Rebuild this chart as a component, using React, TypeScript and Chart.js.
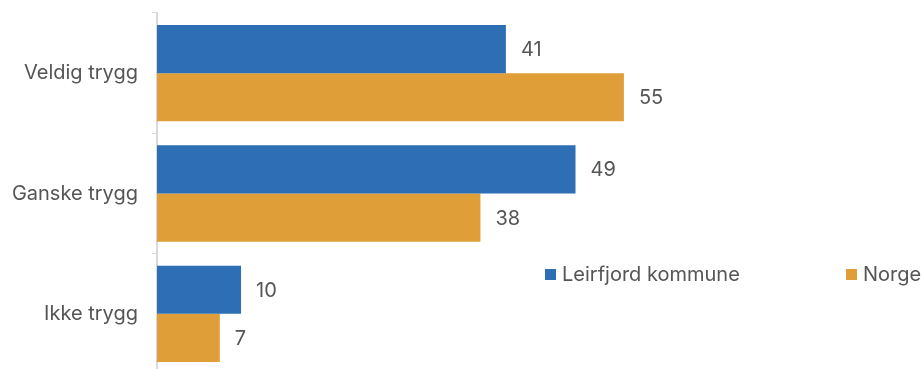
import React, { useEffect, useRef } from "react";
import { Chart, registerables } from "chart.js";

Chart.register(...registerables);

const categories = ["Veldig trygg", "Ganske trygg", "Ikke trygg"];
const seriesNames = ["Leirfjord kommune", "Norge"];
const leirfjord = [41.1, 49.3, 9.9];
const norge = [55, 38.1, 7.4];
const colors = ["#2D6EB4", "#DF9E37"];

const FONT = "Inter, Roboto, sans-serif";
const TEXT = "#555555";

const valueLabels = {
  id: "valueLabels",
  afterDatasetsDraw(chart: any) {
    const ctx = chart.ctx;
    ctx.save();
    ctx.font = `20px ${FONT}`;
    ctx.fillStyle = TEXT;
    ctx.textAlign = "left";
    ctx.textBaseline = "middle";
    chart.data.datasets.forEach((ds: any, i: number) => {
      const meta = chart.getDatasetMeta(i);
      meta.data.forEach((bar: any, j: number) => {
        ctx.fillText(String(Math.round(ds.data[j])), bar.x + 15, bar.y + 1);
      });
    });
    ctx.restore();
  },
};

const customLegend = {
  id: "customLegend",
  afterDraw(chart: any) {
    const ctx = chart.ctx;
    ctx.save();
    ctx.font = `20px ${FONT}`;
    ctx.textBaseline = "middle";
    ctx.textAlign = "left";
    const xs = [545, 846];
    const y = 275;
    chart.data.datasets.forEach((ds: any, i: number) => {
      ctx.fillStyle = ds.backgroundColor;
      ctx.fillRect(xs[i], y - 6, 11, 11);
      ctx.fillStyle = TEXT;
      ctx.fillText(ds.label, xs[i] + 17, y);
    });
    ctx.restore();
  },
};

export default function App() {
  const ref = useRef<HTMLCanvasElement | null>(null);
  useEffect(() => {
    if (!ref.current) return;
    const chart = new Chart(ref.current, {
      type: "bar",
      data: {
        labels: categories,
        datasets: [
          { label: seriesNames[0], data: leirfjord, backgroundColor: colors[0], categoryPercentage: 0.8, barPercentage: 1.0 },
          { label: seriesNames[1], data: norge, backgroundColor: colors[1], categoryPercentage: 0.8, barPercentage: 1.0 },
        ],
      },
      options: {
        indexAxis: "y",
        animation: false,
        responsive: true,
        maintainAspectRatio: false,
        layout: { padding: { top: 13, bottom: 4, left: 0, right: 3 } },
        plugins: { legend: { display: false }, tooltip: { enabled: false } },
        scales: {
          x: { display: false, min: 0, max: 90 },
          y: {
            afterFit(scale: any) {
              scale.width = 157;
              scale.paddingTop = 0;
              scale.paddingBottom = 0;
            },
            grid: {
              offset: true,
              drawOnChartArea: false,
              drawTicks: true,
              tickLength: 5,
              color: "#D9D9D9",
              lineWidth: 1,
            },
            border: { display: true, color: "#D9D9D9", width: 2 },
            ticks: { font: { family: FONT, size: 20 }, color: TEXT, padding: 14 },
          },
        },
      },
      plugins: [valueLabels, customLegend],
    });
    return () => chart.destroy();
  }, []);
  return (
    <div style={{ position: "fixed", left: 0, top: 0, width: 924, height: 369, overflow: "hidden", background: "#fff" }}>
      <div style={{ position: "relative", width: 924, height: 378 }}>
        <canvas ref={ref} />
      </div>
    </div>
  );
}
